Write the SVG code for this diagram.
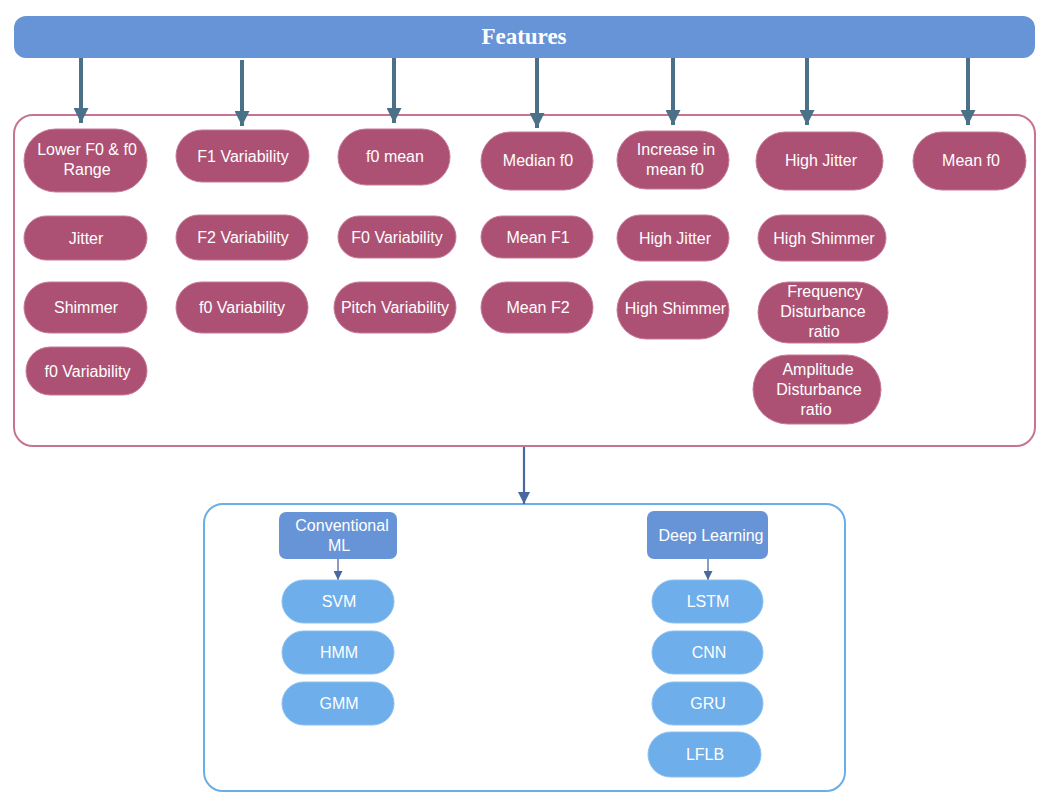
<svg xmlns="http://www.w3.org/2000/svg" width="1053" height="806" viewBox="0 0 1053 806">
<defs>
<style>
.feat{fill:#ad5174;stroke:#c67b98;stroke-width:1}
.ft{font-family:"Liberation Sans",Arial,sans-serif;font-size:16px;fill:#ffffff;text-anchor:middle}
.hdr{fill:#6794d6}
.alg{fill:#6eaeea;stroke:#8cc0ef;stroke-width:1}
.top-arrow{stroke:#4b7189;stroke-width:4;fill:none}
.blue-arrow{stroke:#4a67a0;fill:none}
</style>
<marker id="ahTop" markerUnits="userSpaceOnUse" markerWidth="15" markerHeight="15" refX="15" refY="7.5" orient="auto" viewBox="0 0 15 15">
<path d="M0,0 L15,7.5 L0,15 z" fill="#4b7189"/>
</marker>
<marker id="ahMid" markerUnits="userSpaceOnUse" markerWidth="12" markerHeight="12" refX="12" refY="6" orient="auto" viewBox="0 0 12 12">
<path d="M0,0 L12,6 L0,12 z" fill="#4a67a0"/>
</marker>
<marker id="ahSmall" markerUnits="userSpaceOnUse" markerWidth="9" markerHeight="9" refX="9" refY="4.5" orient="auto" viewBox="0 0 9 9">
<path d="M0,0 L9,4.5 L0,9 z" fill="#4a67a0"/>
</marker>
</defs>
<rect width="1053" height="806" fill="#ffffff"/>

<g id="features-bar">
<rect x="14" y="16" width="1021" height="42" rx="12" fill="#6794d6"/>
<text x="524" y="44" font-family="'Liberation Serif','Times New Roman',serif" font-weight="bold" font-size="23" fill="#ffffff" text-anchor="middle">Features</text>
</g>

<g id="feature-container">
<rect x="14" y="115" width="1021" height="331" rx="19" fill="none" stroke="#c67394" stroke-width="2"/>
</g>

<g id="model-container">
<rect x="204" y="504" width="641" height="287" rx="19" fill="none" stroke="#6aaee8" stroke-width="2"/>
</g>

<g id="connectors">
<line class="top-arrow" x1="81" y1="58" x2="81" y2="123" marker-end="url(#ahTop)"/>
<line class="top-arrow" x1="242" y1="60" x2="242" y2="126" marker-end="url(#ahTop)"/>
<line class="top-arrow" x1="394" y1="58" x2="394" y2="123" marker-end="url(#ahTop)"/>
<line class="top-arrow" x1="537" y1="58" x2="537" y2="128" marker-end="url(#ahTop)"/>
<line class="top-arrow" x1="673" y1="58" x2="673" y2="125" marker-end="url(#ahTop)"/>
<line class="top-arrow" x1="807" y1="58" x2="807" y2="125" marker-end="url(#ahTop)"/>
<line class="top-arrow" x1="968" y1="58" x2="968" y2="125" marker-end="url(#ahTop)"/>
<line class="blue-arrow" stroke-width="2.2" x1="524" y1="447" x2="524" y2="504" marker-end="url(#ahMid)"/>
<line class="blue-arrow" stroke-width="1.3" x1="338" y1="559" x2="338" y2="580" marker-end="url(#ahSmall)"/>
<line class="blue-arrow" stroke-width="1.3" x1="708" y1="559" x2="708" y2="580" marker-end="url(#ahSmall)"/>
</g>

<g id="n-lower-f0"><rect class="feat" x="24" y="129" width="123" height="63" rx="31.5"/><text class="ft" x="87" y="155">Lower F0 &amp; f0</text><text class="ft" x="87" y="175">Range</text></g>
<g id="n-jitter"><rect class="feat" x="24" y="216" width="123" height="44" rx="22"/><text class="ft" x="86" y="243.5">Jitter</text></g>
<g id="n-shimmer"><rect class="feat" x="24" y="282" width="123" height="51" rx="25.5"/><text class="ft" x="86" y="313">Shimmer</text></g>
<g id="n-f0-var-1"><rect class="feat" x="26" y="347" width="121" height="48" rx="24"/><text class="ft" x="87.5" y="376.5">f0 Variability</text></g>

<g id="n-f1-var"><rect class="feat" x="176" y="130" width="133" height="52" rx="26"/><text class="ft" x="243" y="161.5">F1 Variability</text></g>
<g id="n-f2-var"><rect class="feat" x="176" y="215" width="132" height="45" rx="22.5"/><text class="ft" x="243" y="243">F2 Variability</text></g>
<g id="n-f0-var-2"><rect class="feat" x="176" y="282" width="132" height="51" rx="25.5"/><text class="ft" x="242" y="313">f0 Variability</text></g>

<g id="n-f0-mean"><rect class="feat" x="338" y="129" width="112" height="56" rx="28"/><text class="ft" x="395" y="162">f0 mean</text></g>
<g id="n-F0-var"><rect class="feat" x="338" y="216" width="118" height="42" rx="21"/><text class="ft" x="397" y="242.5">F0 Variability</text></g>
<g id="n-pitch-var"><rect class="feat" x="334" y="282" width="122" height="51" rx="25.5"/><text class="ft" x="395" y="313">Pitch Variability</text></g>

<g id="n-median-f0"><rect class="feat" x="481" y="132" width="112" height="58" rx="29"/><text class="ft" x="538" y="166">Median f0</text></g>
<g id="n-mean-f1"><rect class="feat" x="481" y="216" width="112" height="42" rx="21"/><text class="ft" x="538" y="242.5">Mean F1</text></g>
<g id="n-mean-f2"><rect class="feat" x="481" y="282" width="112" height="51" rx="25.5"/><text class="ft" x="538" y="313">Mean F2</text></g>

<g id="n-increase-mean"><rect class="feat" x="617" y="131" width="112" height="58" rx="29"/><text class="ft" x="676" y="155">Increase in</text><text class="ft" x="675" y="175">mean f0</text></g>
<g id="n-high-jitter-1"><rect class="feat" x="617" y="215" width="112" height="46" rx="23"/><text class="ft" x="675" y="243.5">High Jitter</text></g>
<g id="n-high-shimmer-1"><rect class="feat" x="617" y="281" width="112" height="58" rx="29"/><text class="ft" x="675.5" y="314">High Shimmer</text></g>

<g id="n-high-jitter-2"><rect class="feat" x="756" y="132" width="127" height="58" rx="29"/><text class="ft" x="821" y="166">High Jitter</text></g>
<g id="n-high-shimmer-2"><rect class="feat" x="758" y="215" width="128" height="46" rx="23"/><text class="ft" x="824" y="243.5">High Shimmer</text></g>
<g id="n-freq-dist"><rect class="feat" x="758" y="282" width="130" height="61" rx="30.5"/><text class="ft" x="825" y="297">Frequency</text><text class="ft" x="823" y="317">Disturbance</text><text class="ft" x="824" y="337">ratio</text></g>
<g id="n-amp-dist"><rect class="feat" x="753" y="355" width="128" height="69" rx="34.5"/><text class="ft" x="818" y="375">Amplitude</text><text class="ft" x="819" y="395">Disturbance</text><text class="ft" x="816" y="415">ratio</text></g>

<g id="n-mean-f0"><rect class="feat" x="913" y="132" width="113" height="58" rx="29"/><text class="ft" x="971" y="166">Mean f0</text></g>

<g id="n-conventional-ml"><rect class="hdr" x="279" y="512" width="118" height="47" rx="7"/><text class="ft" x="342" y="531">Conventional</text><text class="ft" x="339" y="551">ML</text></g>
<g id="n-svm"><rect class="alg" x="282" y="580" width="112" height="43" rx="21.5"/><text class="ft" x="339" y="607">SVM</text></g>
<g id="n-hmm"><rect class="alg" x="282" y="631" width="112" height="43" rx="21.5"/><text class="ft" x="339" y="658">HMM</text></g>
<g id="n-gmm"><rect class="alg" x="282" y="682" width="112" height="43" rx="21.5"/><text class="ft" x="339" y="709">GMM</text></g>

<g id="n-deep-learning"><rect class="hdr" x="647" y="511" width="121" height="48" rx="7"/><text class="ft" x="711" y="541">Deep Learning</text></g>
<g id="n-lstm"><rect class="alg" x="652" y="580" width="111" height="43" rx="21.5"/><text class="ft" x="708" y="607">LSTM</text></g>
<g id="n-cnn"><rect class="alg" x="652" y="631" width="111" height="43" rx="21.5"/><text class="ft" x="709" y="658">CNN</text></g>
<g id="n-gru"><rect class="alg" x="652" y="682" width="111" height="43" rx="21.5"/><text class="ft" x="708" y="709">GRU</text></g>
<g id="n-lflb"><rect class="alg" x="648" y="732" width="113" height="45" rx="22.5"/><text class="ft" x="705" y="760">LFLB</text></g>
</svg>
